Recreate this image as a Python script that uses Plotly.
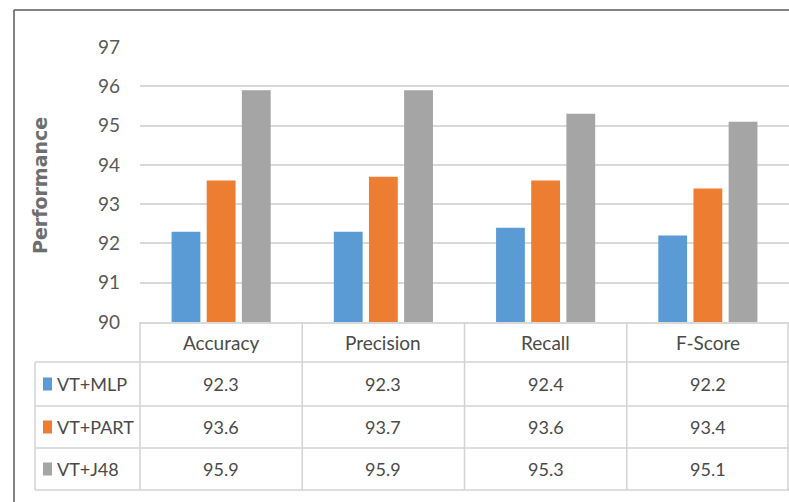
import plotly.graph_objects as go

# Metrics on the category axis and the three classifier pipelines
categories = ["Accuracy", "Precision", "Recall", "F-Score"]
series_names = ["VT+MLP", "VT+PART", "VT+J48"]
mlp_values = [92.3, 92.3, 92.4, 92.2]
part_values = [93.6, 93.7, 93.6, 93.4]
j48_values = [95.9, 95.9, 95.3, 95.1]
y_ticks = [90, 91, 92, 93, 94, 95, 96, 97]

series_values = [mlp_values, part_values, j48_values]
colors = ["#5b9bd5", "#ed7d31", "#a5a5a5"]

W, H = 789, 502
ML, MR, MT, MB = 140, 0, 47, 180
plot_w = W - ML - MR
plot_h = H - MT - MB

def px_x(px):
    return (px - ML) / plot_w

def px_y(py):
    return (H - MB - py) / plot_h

TEXT = "#4a4a4a"
GRID = "#d9d9d9"
FONT = "Lato, Carlito, 'Open Sans', sans-serif"

fig = go.Figure()
for name, vals, col in zip(series_names, series_values, colors):
    fig.add_trace(go.Bar(
        x=categories, y=vals, name=name, marker_color=col,
        marker_line_width=0, showlegend=False,
    ))

fig.update_layout(
    width=W, height=H,
    margin=dict(l=ML, r=MR, t=MT, b=MB, pad=0),
    paper_bgcolor="white", plot_bgcolor="white",
    barmode="group", bargap=0.35, bargroupgap=0.18,
    font=dict(family=FONT, color=TEXT),
)
fig.update_xaxes(
    range=[-0.5, len(categories) - 0.5], showticklabels=False, ticks="",
    showgrid=False, showline=True, linecolor=GRID, linewidth=1.5,
    zeroline=False,
)
fig.update_yaxes(
    range=[y_ticks[0], y_ticks[-1]], tickvals=y_ticks, ticks="",
    showgrid=True, gridcolor=GRID, gridwidth=1.5, zeroline=False,
    showline=False, tickfont=dict(family=FONT, size=19, color="#595959"),
    ticklabelstandoff=19,
)

# Y-axis title
fig.add_annotation(
    text="Performance", textangle=-90, xref="paper", yref="paper",
    x=px_x(40), y=px_y(186), showarrow=False, xanchor="center", yanchor="middle",
    font=dict(family="DejaVu Sans", size=19, color="#6e6e6e", weight="bold"),
)

# Data table below the plot
n_cat = len(categories)
header_top, header_bot = 322, 362
row_bounds = [362, 406, 448, 490]
table_left = 35
line_style = dict(color="#d3d3d3", width=1.5)

def cat_edge(i):
    # boundary between category columns, in paper units
    return i / n_cat

shapes = []
# horizontal rules spanning the label column and the data columns
for py in row_bounds:
    shapes.append(dict(type="line", xref="paper", yref="paper",
                       x0=px_x(table_left), x1=1, y0=px_y(py), y1=px_y(py),
                       line=line_style))
# label column left edge
shapes.append(dict(type="line", xref="paper", yref="paper",
                   x0=px_x(table_left), x1=px_x(table_left),
                   y0=px_y(row_bounds[0]), y1=px_y(row_bounds[-1]), line=line_style))
# column separators for categories
for i in range(n_cat + 1):
    xe = cat_edge(i)
    if i == n_cat:
        xe = 1 - 1.0 / plot_w
    shapes.append(dict(type="line", xref="paper", yref="paper",
                       x0=xe, x1=xe, y0=px_y(header_top), y1=px_y(row_bounds[-1]),
                       line=line_style))
# outer chart border (top and left)
shapes.append(dict(type="line", xref="paper", yref="paper",
                   x0=px_x(14), x1=1, y0=px_y(10), y1=px_y(10),
                   line=dict(color="#5a5a5a", width=1.5)))
shapes.append(dict(type="line", xref="paper", yref="paper",
                   x0=px_x(14), x1=px_x(14), y0=px_y(10), y1=px_y(H),
                   line=dict(color="#5a5a5a", width=1.5)))

# header row with category names
for c in categories:
    fig.add_annotation(text=c, xref="x", yref="paper", x=c,
                       y=px_y((header_top + header_bot) / 2), showarrow=False,
                       xanchor="center", yanchor="middle",
                       font=dict(family=FONT, size=19, color=TEXT))

# series rows: legend key, name, values
for r, (name, vals, col) in enumerate(zip(series_names, series_values, colors)):
    top, bot = row_bounds[r], row_bounds[r + 1]
    yc = (top + bot) / 2
    shapes.append(dict(type="rect", xref="paper", yref="paper",
                       x0=px_x(43), x1=px_x(52), y0=px_y(yc - 6.5), y1=px_y(yc + 6.5),
                       fillcolor=col, line=dict(width=0)))
    fig.add_annotation(text=name, xref="paper", yref="paper", x=px_x(55),
                       y=px_y(yc), xanchor="left", yanchor="middle", showarrow=False,
                       font=dict(family=FONT, size=18, color=TEXT))
    for c, v in zip(categories, vals):
        fig.add_annotation(text=f"{v:.1f}", xref="x", yref="paper", x=c,
                           y=px_y(yc), showarrow=False,
                           xanchor="center", yanchor="middle",
                           font=dict(family=FONT, size=18, color=TEXT))

fig.update_layout(shapes=shapes)
fig.write_html("out.html")
